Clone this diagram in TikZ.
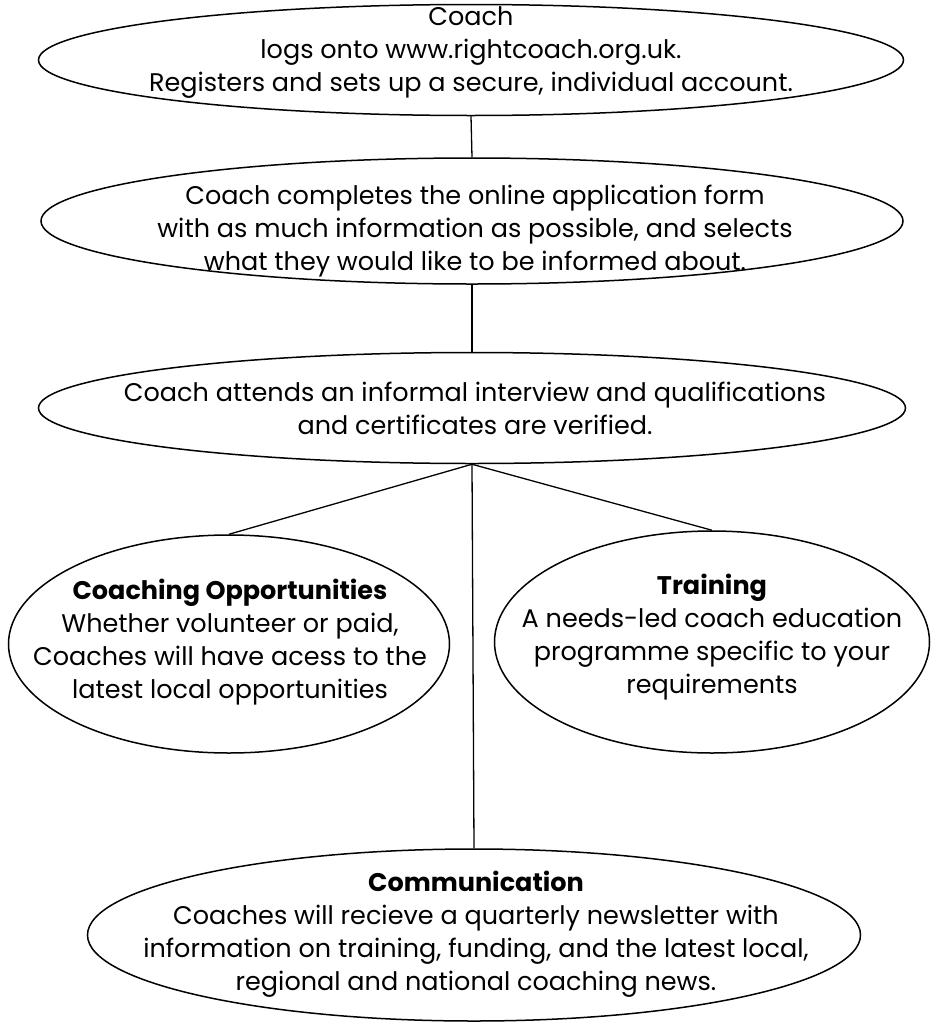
\documentclass[tikz,border=0pt]{standalone}
\usepackage{fontspec}
\setmainfont{Poppins}
\usetikzlibrary{shapes.geometric}
\begin{document}
\begin{tikzpicture}[x=1pt,y=-1pt,
  oval/.style={draw, ellipse, line width=1.5pt, inner sep=0pt},
  link/.style={line width=1.3pt},
  txt/.style={align=center, inner sep=0pt, font=\fontsize{25.5}{33}\selectfont}]
\useasboundingbox (0,0) rectangle (942,1023);

% outlines of the steps
\node[oval, minimum width=865pt, minimum height=111pt] (reg)  at (471,60)  {};
\node[oval, minimum width=862pt, minimum height=126pt] (form) at (472,221) {};
\node[oval, minimum width=867pt, minimum height=111pt] (intv) at (472,408) {};
\node[oval, minimum width=441pt, minimum height=218pt] (opp)  at (229,644) {};
\node[oval, minimum width=435pt, minimum height=222pt] (trn)  at (712,642) {};
\node[oval, minimum width=773pt, minimum height=172pt] (comm) at (474,935) {};

% connectors
\draw[link] (reg.south) -- (form.north);
\draw[link] (form.south) -- (intv.north);
\draw[link] (intv.south) -- (opp.north);
\draw[link] (intv.south) -- (trn.north);
\draw[link] (intv.south) -- (comm.north);

% texts
\node[txt] (regT) at (471,53) {Coach\\logs onto www.rightcoach.org.uk.\\Registers and sets up a secure, individual account.};
\node[txt] (formT) at (475,231) {Coach completes the online application form\\with as much information as possible, and selects\\what they would like to be informed about.};
\node[txt] (intvT) at (475,408) {Coach attends an informal interview and qualifications\\and certificates are verified.};
\node[txt] (oppT) at (230,642) {\textbf{Coaching Opportunities}\\Whether volunteer or paid,\\Coaches will have acess to the\\latest local opportunities};
\node[txt] (trnT) at (712,637) {\textbf{Training}\\A needs-led coach education\\programme specific to your\\requirements};
\node[txt] (commT) at (476,934) {\textbf{Communication}\\Coaches will recieve a quarterly newsletter with\\information on training, funding, and the latest local,\\regional and national coaching news.};
\end{tikzpicture}
\end{document}
